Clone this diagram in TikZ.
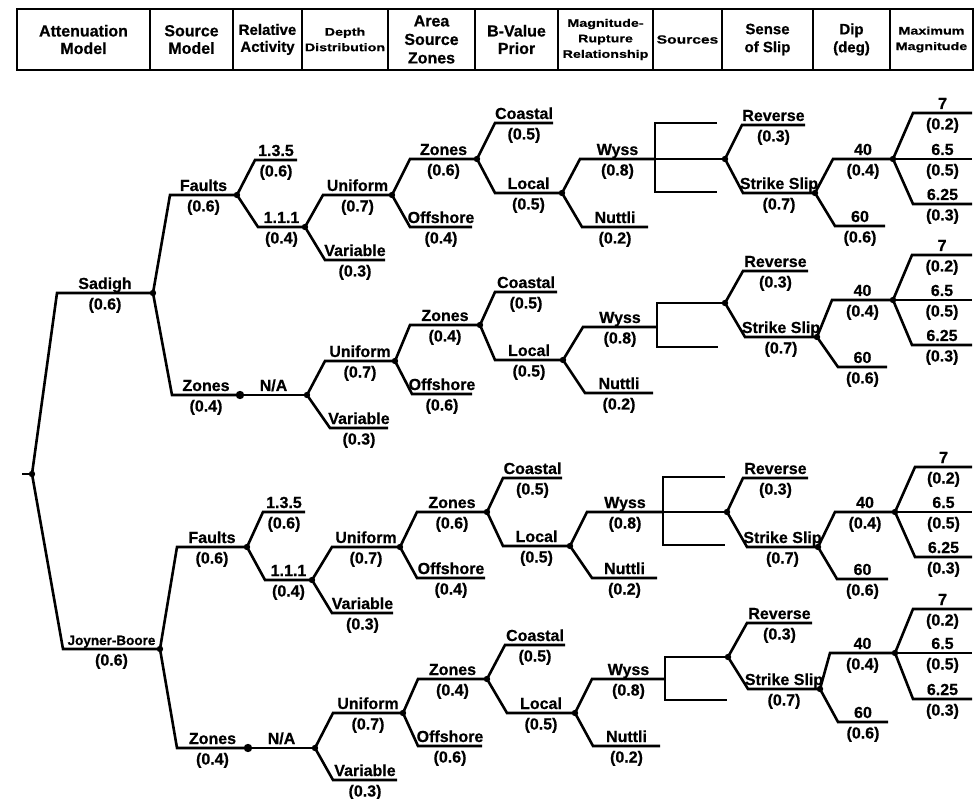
\documentclass[tikz,border=0pt]{standalone}
\usepackage{fontspec}
\setmainfont{Liberation Sans}[BoldFeatures={FakeBold=0.6}]
\newfontfamily\hwide[FakeStretch=1.3, FakeBold=0.6]{Liberation Sans Bold}
\usetikzlibrary{calc}
\tikzset{
  tl/.style={line width=2.6pt, line join=miter},
  lab/.style={anchor=base, inner sep=0pt, font=\fontsize{16}{18}\selectfont\bfseries},
  hcell/.style={draw, line width=2.2pt, minimum height=61pt, inner sep=0pt, align=center,
    font=\fontsize{16}{17.5}\selectfont\bfseries},
  hsmall/.style={font=\hwide\fontsize{11}{15.5}\selectfont},
}
\newcommand{\br}[7]{%
  \coordinate (#2s) at (#3,#5);
  \coordinate (#2) at (#4,#5);
  \coordinate (#2c) at ({(#3+#4)/2},#5);
  \draw[tl] (#1) -- (#2s) -- (#2);
  \node[lab] (#2l) at ([yshift=4pt]#2c) {#6};
  \node[lab] (#2p) at ([yshift=-16.5pt]#2c) {#7};
}
\newcommand{\dt}[1]{\fill (#1) circle (3.2);}
\newcommand{\bdt}[1]{\fill (#1) circle (4.2);}
\begin{document}
\begin{tikzpicture}[x=1pt,y=-1pt]
\useasboundingbox (0,0) rectangle (977,799);
\fill[white] (0,0) rectangle (977,799);
% ---------------- header ----------------
\node[hcell, minimum width=133pt] (h1) at (83.5,39.5) {Attenuation\\Model};
\node[hcell, minimum width=83pt] (h2) at (191.5,39.5) {Source\\Model};
\node[hcell, minimum width=69pt, font=\fontsize{15}{17}\selectfont\bfseries] (h3) at (267.5,39.5) {Relative\\Activity};
\node[hcell, minimum width=86pt, hsmall] (h4) at (345,39.5) {Depth\\Distribution};
\node[hcell, minimum width=87pt, font=\fontsize{16}{18.5}\selectfont\bfseries] (h5) at (431.5,39.5) {Area\\Source\\Zones};
\node[hcell, minimum width=83pt] (h6) at (516.5,39.5) {B-Value\\Prior};
\node[hcell, minimum width=95pt, hsmall] (h7) at (605.5,39.5) {Magnitude-\\Rupture\\Relationship};
\node[hcell, minimum width=69pt, font=\hwide\fontsize{12}{14}\selectfont] (h8) at (687.5,39.5) {Sources};
\node[hcell, minimum width=91pt, font=\fontsize{15}{18}\selectfont\bfseries] (h9) at (767.5,39.5) {Sense\\of Slip};
\node[hcell, minimum width=77pt, font=\fontsize{15}{18}\selectfont\bfseries] (h10) at (851.5,39.5) {Dip\\(deg)};
\node[hcell, minimum width=83pt, hsmall] (h11) at (931.5,39.5) {Maximum\\Magnitude};
% ---------------- root ----------------
\coordinate (R) at (32,474);
\coordinate (R0) at (22,474);
\draw[tl] (R0) -- (R);
\br{R}{S}{57}{153}{293}{Sadigh}{(0.6)}
\br{R}{J}{63}{160}{649}{{\fontsize{13.5}{15}\selectfont Joyner-Boore}}{(0.6)}
% ======== tree 1: Sadigh / Faults ========
\br{S}{SF}{170}{237}{195}{Faults}{(0.6)}
\br{SF}{SFa}{255}{297}{160}{1.3.5}{(0.6)}
\br{SF}{SFb}{258}{305}{227}{1.1.1}{(0.4)}
\br{SFb}{SFu}{323}{392}{195}{Uniform}{(0.7)}
\br{SFb}{SFv}{325}{385}{260}{Variable}{(0.3)}
\br{SFu}{SFz}{410}{477}{159}{Zones}{(0.6)}
\br{SFu}{SFo}{410}{472}{227}{Offshore}{(0.4)}
\br{SFz}{SFc}{495}{553}{123}{Coastal}{(0.5)}
\br{SFz}{SFl}{495}{562}{193}{Local}{(0.5)}
\br{SFl}{SFw}{580}{655}{159}{Wyss}{(0.8)}
\br{SFl}{SFn}{582}{648}{227}{Nuttli}{(0.2)}
\coordinate (SFbt) at (655,123); \coordinate (SFbb) at (655,192);
\coordinate (SFbte) at (717,123); \coordinate (SFbbe) at (717,192);
\coordinate (SFk) at (725,159);
\draw[tl] (SFbte) -- (SFbt) -- (SFbb) -- (SFbbe);
\draw[tl] (SFw) -- (SFk);
\br{SFk}{SFr}{742}{805}{125}{Reverse}{(0.3)}
\br{SFk}{SFs}{743}{815}{193}{Strike Slip}{(0.7)}
\br{SFs}{SF4}{833}{893}{159}{40}{(0.4)}
\br{SFs}{SF6}{835}{885}{226}{60}{(0.6)}
\br{SF4}{SFm1}{913}{972}{113}{7}{(0.2)}
\br{SF4}{SFm2}{913}{972}{159}{6.5}{(0.5)}
\br{SF4}{SFm3}{913}{972}{204}{6.25}{(0.3)}
% ======== tree 2: Sadigh / Zones ========
\br{S}{SZ}{172}{240}{395}{Zones}{(0.4)}
\br{SZ}{SN}{240}{307}{395}{N/A}{}
\br{SN}{SZu}{325}{395}{361}{Uniform}{(0.7)}
\br{SN}{SZv}{330}{388}{428}{Variable}{(0.3)}
\br{SZu}{SZz}{410}{480}{325}{Zones}{(0.4)}
\br{SZu}{SZo}{412}{472}{394}{Offshore}{(0.6)}
\br{SZz}{SZc}{495}{557}{292}{Coastal}{(0.5)}
\br{SZz}{SZl}{495}{563}{360}{Local}{(0.5)}
\br{SZl}{SZw}{583}{657}{327}{Wyss}{(0.8)}
\br{SZl}{SZn}{585}{653}{393}{Nuttli}{(0.2)}
\coordinate (SZbt) at (657,303); \coordinate (SZbb) at (657,347);
\coordinate (SZbbe) at (718,347);
\coordinate (SZk) at (725,303);
\draw[tl] (SZk) -- (SZbt) -- (SZbb) -- (SZbbe);
\br{SZk}{SZr}{743}{808}{271}{Reverse}{(0.3)}
\br{SZk}{SZs}{745}{817}{337}{Strike Slip}{(0.7)}
\br{SZs}{SZ4}{832}{893}{300}{40}{(0.4)}
\br{SZs}{SZ6}{838}{887}{367}{60}{(0.6)}
\br{SZ4}{SZm1}{912}{972}{255}{7}{(0.2)}
\br{SZ4}{SZm2}{912}{972}{300}{6.5}{(0.5)}
\br{SZ4}{SZm3}{912}{972}{345}{6.25}{(0.3)}
% ======== tree 3: Joyner-Boore / Faults ========
\br{J}{JF}{177}{247}{547}{Faults}{(0.6)}
\br{JF}{JFa}{263}{305}{512}{1.3.5}{(0.6)}
\br{JF}{JFb}{265}{312}{580}{1.1.1}{(0.4)}
\br{JFb}{JFu}{332}{400}{547}{Uniform}{(0.7)}
\br{JFb}{JFv}{332}{393}{613}{Variable}{(0.3)}
\br{JFu}{JFz}{417}{487}{512}{Zones}{(0.6)}
\br{JFu}{JFo}{417}{485}{578}{Offshore}{(0.4)}
\br{JFz}{JFc}{503}{562}{478}{Coastal}{(0.5)}
\br{JFz}{JFl}{503}{570}{546}{Local}{(0.5)}
\br{JFl}{JFw}{587}{663}{512}{Wyss}{(0.8)}
\br{JFl}{JFn}{592}{657}{578}{Nuttli}{(0.2)}
\coordinate (JFbt) at (663,477); \coordinate (JFbb) at (663,545);
\coordinate (JFbte) at (725,477); \coordinate (JFbbe) at (725,545);
\coordinate (JFk) at (727,512);
\draw[tl] (JFbte) -- (JFbt) -- (JFbb) -- (JFbbe);
\draw[tl] (JFw) -- (JFk);
\br{JFk}{JFr}{743}{808}{478}{Reverse}{(0.3)}
\br{JFk}{JFs}{747}{818}{547}{Strike Slip}{(0.7)}
\br{JFs}{JF4}{835}{895}{512}{40}{(0.4)}
\br{JFs}{JF6}{837}{888}{579}{60}{(0.6)}
\br{JF4}{JFm1}{915}{972}{467}{7}{(0.2)}
\br{JF4}{JFm2}{915}{972}{512}{6.5}{(0.5)}
\br{JF4}{JFm3}{915}{972}{557}{6.25}{(0.3)}
% ======== tree 4: Joyner-Boore / Zones ========
\br{J}{JZ}{177}{248}{748}{Zones}{(0.4)}
\br{JZ}{JN}{248}{315}{748}{N/A}{}
\br{JN}{JZu}{333}{403}{713}{Uniform}{(0.7)}
\br{JN}{JZv}{333}{397}{780}{Variable}{(0.3)}
\br{JZu}{JZz}{418}{487}{679}{Zones}{(0.4)}
\br{JZu}{JZo}{418}{482}{746}{Offshore}{(0.6)}
\br{JZz}{JZc}{505}{565}{645}{Coastal}{(0.5)}
\br{JZz}{JZl}{507}{575}{713}{Local}{(0.5)}
\br{JZl}{JZw}{592}{665}{679}{Wyss}{(0.8)}
\br{JZl}{JZn}{593}{660}{746}{Nuttli}{(0.2)}
\coordinate (JZbt) at (665,657); \coordinate (JZbb) at (665,700);
\coordinate (JZbbe) at (727,700);
\coordinate (JZk) at (728,657);
\draw[tl] (JZk) -- (JZbt) -- (JZbb) -- (JZbbe);
\br{JZk}{JZr}{747}{812}{623}{Reverse}{(0.3)}
\br{JZk}{JZs}{748}{820}{689}{Strike Slip}{(0.7)}
\br{JZs}{JZ4}{830}{895}{653}{40}{(0.4)}
\br{JZs}{JZ6}{838}{888}{722}{60}{(0.6)}
\br{JZ4}{JZm1}{913}{972}{609}{7}{(0.2)}
\br{JZ4}{JZm2}{913}{972}{653}{6.5}{(0.5)}
\br{JZ4}{JZm3}{913}{972}{699}{6.25}{(0.3)}
% ---------------- dots ----------------
\foreach \p in {R,S,J,SF,SFb,SFu,SFz,SFl,SFk,SFs,SF4,SN,SZu,SZz,SZl,SZk,SZs,SZ4,
  JF,JFb,JFu,JFz,JFl,JFk,JFs,JF4,JN,JZu,JZz,JZl,JZk,JZs,JZ4} {\dt{\p}}
\bdt{SZ}
\bdt{JZ}
\end{tikzpicture}
\end{document}
